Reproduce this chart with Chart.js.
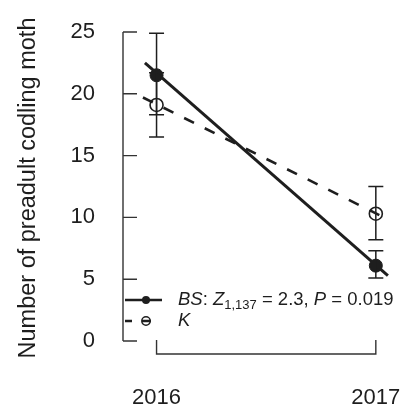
<!DOCTYPE html>
<html><head><meta charset="utf-8">
<script src="https://cdn.jsdelivr.net/npm/chart.js@4/dist/chart.umd.min.js"></script>
<style>html,body{margin:0;padding:0;background:#fff;} #wrap{width:403px;height:408px;position:relative;}</style>
</head><body><div id="wrap"><canvas id="c"></canvas></div>
<script>
// ---- data ----
const years = [2016, 2017];
const xTickLabels = ['2016', '2017'];
const yTicks = [0, 5, 10, 15, 20, 25];
const bsMean = [21.5, 6.1];
const bsLow = [18.3, 5.1];
const bsHigh = [24.9, 7.3];
const kMean = [19.1, 10.3];
const kLow = [16.5, 8.2];
const kHigh = [21.7, 12.5];
const bsFitX = [2015.947, 2017.055];
const bsFitY = [22.5, 5.3];
const kFitX = [2015.938, 2017.06];
const kFitY = [19.7, 9.8];
const yTitle = 'Number of preadult codling moth';
const legendBS = [['BS', 'i'], [': ', 'n'], ['Z', 'i'], ['1,137', 's'], [' = 2.3, ', 'n'], ['P', 'i'], [' = 0.019', 'n']];
const legendK = [['K', 'i']];

const FONT = '"Liberation Sans", Arial, Helvetica, sans-serif';
const INK = '#1e1e1e';
const CLEAR = 'rgba(0,0,0,0)';

const pts = (xs, ys) => xs.map((x, i) => ({x: x, y: ys[i]}));

const rStyle = {
  id: 'rStyle',
  afterDatasetsDraw(chart) {
    const ctx = chart.ctx, xs = chart.scales.x, ys = chart.scales.y;
    ctx.save();
    ctx.strokeStyle = INK;
    ctx.lineWidth = 1.5;
    const drawErr = (lo, hi) => {
      years.forEach((yr, i) => {
        const px = xs.getPixelForValue(yr);
        const a = ys.getPixelForValue(lo[i]), b = ys.getPixelForValue(hi[i]);
        ctx.beginPath();
        ctx.moveTo(px, a); ctx.lineTo(px, b);
        ctx.moveTo(px - 7.5, a); ctx.lineTo(px + 7.5, a);
        ctx.moveTo(px - 7.5, b); ctx.lineTo(px + 7.5, b);
        ctx.stroke();
      });
    };
    drawErr(bsLow, bsHigh);
    drawErr(kLow, kHigh);
    ctx.restore();
  },
  afterDraw(chart) {
    const ctx = chart.ctx, xs = chart.scales.x, ys = chart.scales.y;
    const ax = chart.chartArea.left;
    ctx.save();
    ctx.strokeStyle = '#333';
    ctx.lineWidth = 1.4;
    ctx.beginPath();
    ctx.moveTo(ax, ys.getPixelForValue(yTicks[0]));
    ctx.lineTo(ax, ys.getPixelForValue(yTicks[yTicks.length - 1]));
    yTicks.forEach(v => { const p = ys.getPixelForValue(v); ctx.moveTo(ax, p); ctx.lineTo(ax + 14, p); });
    const by = ys.getPixelForValue(0) + 13;
    const x0 = xs.getPixelForValue(years[0]), x1 = xs.getPixelForValue(years[1]);
    ctx.moveTo(x0, by - 14); ctx.lineTo(x0, by); ctx.lineTo(x1, by); ctx.lineTo(x1, by - 14);
    ctx.stroke();

    // legend
    const lx0 = ax + 2, lx1 = ax + 39, cx = ax + 23;
    const r1 = 300, r2 = 321;
    ctx.strokeStyle = INK; ctx.fillStyle = INK;
    ctx.lineWidth = 2.5;
    ctx.beginPath(); ctx.moveTo(lx0, r1); ctx.lineTo(lx1, r1); ctx.stroke();
    ctx.beginPath(); ctx.arc(cx, r1, 4, 0, Math.PI * 2); ctx.fill();
    ctx.beginPath(); ctx.moveTo(lx0, r2); ctx.lineTo(lx0 + 7, r2); ctx.moveTo(cx - 4, r2); ctx.lineTo(cx + 5, r2); ctx.stroke();
    ctx.lineWidth = 1.5;
    ctx.beginPath(); ctx.arc(cx, r2, 4.2, 0, Math.PI * 2); ctx.stroke();

    const drawRich = (parts, x, y) => {
      ctx.textBaseline = 'middle';
      ctx.textAlign = 'left';
      parts.forEach(([t, k]) => {
        let dy = 0;
        if (k === 'i') ctx.font = 'italic 18.5px ' + FONT;
        else if (k === 's') { ctx.font = '13px ' + FONT; dy = 5; }
        else ctx.font = '18.5px ' + FONT;
        ctx.fillText(t, x, y + dy);
        x += ctx.measureText(t).width;
      });
    };
    drawRich(legendBS, 178, r1);
    drawRich(legendK, 178, r2);
    ctx.restore();
  }
};

new Chart(document.getElementById('c'), {
  type: 'scatter',
  data: {
    datasets: [
      { data: pts(bsFitX, bsFitY), showLine: true, borderColor: INK, borderWidth: 3, pointRadius: 0 },
      { data: pts(kFitX, kFitY), showLine: true, borderColor: INK, borderWidth: 2.6, borderDash: [11, 12], pointRadius: 0 },
      { data: pts(years, bsMean), pointRadius: 6.5, pointBackgroundColor: INK, pointBorderColor: INK, pointBorderWidth: 1 },
      { data: pts(years, kMean), pointRadius: 6.5, pointBackgroundColor: CLEAR, pointBorderColor: INK, pointBorderWidth: 1.6 }
    ]
  },
  options: {
    responsive: true, maintainAspectRatio: false, animation: false,
    layout: { padding: { top: 20, right: 3, left: 0, bottom: 0 } },
    plugins: { legend: { display: false }, tooltip: { enabled: false } },
    scales: {
      x: {
        type: 'linear', min: 2015.847, max: 2017.087,
        afterBuildTicks: s => { s.ticks = years.map(v => ({value: v})); },
        afterFit: s => { s.height = 52; s.paddingLeft = 0; s.paddingRight = 0; },
        ticks: { callback: (v, i) => xTickLabels[i], font: { family: FONT, size: 22 }, color: INK, padding: 0, maxRotation: 0, autoSkip: false },
        grid: { display: true, drawOnChartArea: false, drawTicks: true, tickLength: 29, color: CLEAR, tickColor: CLEAR },
        border: { display: false }
      },
      y: {
        min: -1.21, max: 25.97,
        afterBuildTicks: s => { s.ticks = yTicks.map(v => ({value: v})); },
        afterFit: s => { s.width = 123; s.paddingTop = 0; s.paddingBottom = 0; },
        ticks: { callback: v => String(v), font: { family: FONT, size: 22 }, color: INK, padding: 0 },
        grid: { display: true, drawOnChartArea: false, drawTicks: true, tickLength: 28, color: CLEAR, tickColor: CLEAR },
        border: { display: false },
        title: { display: true, text: yTitle, font: { family: FONT, size: 23.5 }, color: INK, padding: { top: 14, bottom: 0 } }
      }
    }
  },
  plugins: [rStyle]
});
</script></body></html>
